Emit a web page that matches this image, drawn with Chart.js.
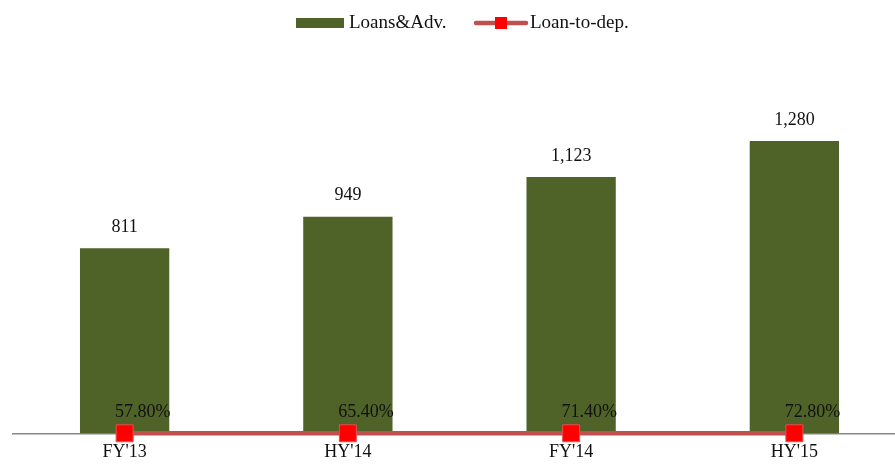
<!DOCTYPE html>
<html>
<head>
<meta charset="utf-8">
<script src="https://cdn.jsdelivr.net/npm/chart.js@4.4.0/dist/chart.umd.min.js"></script>
<style>
  html, body { margin: 0; padding: 0; background: #fff; overflow: hidden; }
  #wrap { width: 919px; height: 463px; }
</style>
</head>
<body>
<div id="wrap"><canvas id="chart"></canvas></div>
<script>
// ===============================
// DATA
// ===============================
const categories = ["FY'13", "HY'14", "FY'14", "HY'15"];
const loansAdv = [811, 949, 1123, 1280];
const loanToDep = [57.80, 65.40, 71.40, 72.80];

const FONT = "'Liberation Serif', 'DejaVu Serif', serif";
const BAR_COLOR = "#4F6228";
const LINE_COLOR = "#C0504D";
const MARK_COLOR = "#FF0000";

// ===============================
// LABELS + LEGEND PLUGIN
// ===============================
const labelPlugin = {
  id: "labels",
  afterDatasetsDraw(chart) {
    const ctx = chart.ctx;
    ctx.save();
    ctx.fillStyle = "#111";
    ctx.font = "18px " + FONT;
    ctx.textAlign = "center";
    ctx.textBaseline = "middle";

    chart.getDatasetMeta(0).data.forEach((bar, i) => {
      ctx.fillText(loansAdv[i].toLocaleString("en-US"), bar.x, bar.y - 21);
    });
    chart.getDatasetMeta(1).data.forEach((pt, i) => {
      ctx.fillText(loanToDep[i].toFixed(2) + "%", pt.x + 18, pt.y - 21);
    });

    // legend
    ctx.font = "19px " + FONT;
    ctx.textAlign = "left";
    ctx.fillStyle = BAR_COLOR;
    ctx.fillRect(296, 18, 48, 10);
    ctx.fillStyle = "#111";
    ctx.fillText("Loans&Adv.", 349, 23);

    ctx.strokeStyle = LINE_COLOR;
    ctx.lineWidth = 4.5;
    ctx.lineCap = "round";
    ctx.beginPath();
    ctx.moveTo(476, 23);
    ctx.lineTo(526, 23);
    ctx.stroke();
    ctx.fillStyle = MARK_COLOR;
    ctx.fillRect(495, 17, 12, 12);
    ctx.fillStyle = "#111";
    ctx.fillText("Loan-to-dep.", 530, 23);
    ctx.restore();
  }
};

// ===============================
// CHART
// ===============================
new Chart(document.getElementById("chart"), {
  type: "bar",
  data: {
    labels: categories,
    datasets: [
      {
        label: "Loans&Adv.",
        data: loansAdv,
        backgroundColor: BAR_COLOR,
        barPercentage: 0.4,
        categoryPercentage: 1,
        order: 2
      },
      {
        type: "line",
        label: "Loan-to-dep.",
        data: loanToDep.map(v => v / 100),
        borderColor: LINE_COLOR,
        borderWidth: 4.5,
        pointStyle: "rect",
        pointRadius: 12,
        pointBackgroundColor: MARK_COLOR,
        pointBorderColor: "#E05050",
        pointBorderWidth: 1,
        clip: false,
        order: 1
      }
    ]
  },
  options: {
    responsive: true,
    maintainAspectRatio: false,
    animation: false,
    layout: { padding: { left: 12, right: 5, top: 68, bottom: 0 } },
    plugins: {
      legend: { display: false },
      tooltip: { enabled: false }
    },
    scales: {
      x: {
        grid: { display: false },
        border: { display: true, color: "#888", width: 1.5 },
        ticks: {
          color: "#111",
          font: { family: FONT, size: 18 },
          padding: 0
        }
      },
      y: {
        display: false,
        min: 0,
        max: 1600
      }
    }
  },
  plugins: [labelPlugin]
});
</script>
</body>
</html>
